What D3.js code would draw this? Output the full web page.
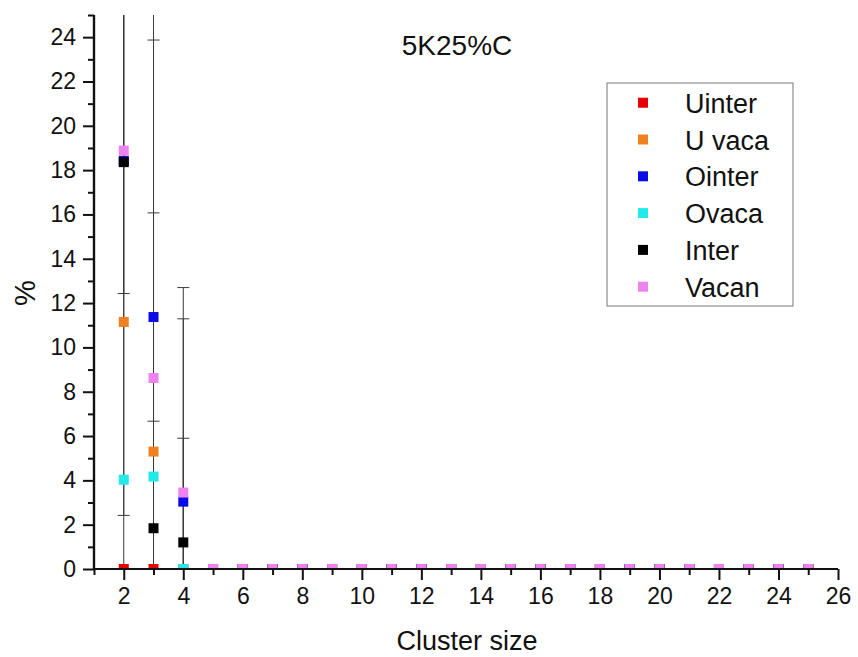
<!DOCTYPE html>
<html><head><meta charset="utf-8">
<script src="https://cdn.jsdelivr.net/npm/d3@7"></script>
<style>body{margin:0;background:#fff}svg{display:block}text{font-family:"Liberation Sans",Arial,sans-serif;fill:#111}</style>
</head><body>
<script>
// ---- data ----
const clusterSizes = [2,3,4,5,6,7,8,9,10,11,12,13,14,15,16,17,18,19,20,21,22,23,24,25];
const seriesNames = ["Uinter","U vaca","Ointer","Ovaca","Inter","Vacan"];
const seriesColors = ["#e60000","#f08022","#0a0ae8","#22eaea","#000000","#ee82ee"];
const uinter = [0,0,0,0,0,0,0,0,0,0,0,0,0,0,0,0,0,0,0,0,0,0,0,0];
const uvaca  = [11.15,5.3,0,0,0,0,0,0,0,0,0,0,0,0,0,0,0,0,0,0,0,0,0,0];
const ointer = [18.42,11.37,3.04,0,0,0,0,0,0,0,0,0,0,0,0,0,0,0,0,0,0,0,0,0];
const ovaca  = [4.03,4.17,0,0,0,0,0,0,0,0,0,0,0,0,0,0,0,0,0,0,0,0,0,0];
const inter  = [18.36,1.84,1.2,0,0,0,0,0,0,0,0,0,0,0,0,0,0,0,0,0,0,0,0,0];
const vacan  = [18.88,8.62,3.45,0,0,0,0,0,0,0,0,0,0,0,0,0,0,0,0,0,0,0,0,0];
const uinterErr = [0,0,0,0,0,0,0,0,0,0,0,0,0,0,0,0,0,0,0,0,0,0,0,0];
const uvacaErr  = [0,22,0,0,0,0,0,0,0,0,0,0,0,0,0,0,0,0,0,0,0,0,0,0];
const ointerErr = [16,4.7,8.25,0,0,0,0,0,0,0,0,0,0,0,0,0,0,0,0,0,0,0,0,0];
const ovacaErr  = [22,0,0,0,0,0,0,0,0,0,0,0,0,0,0,0,0,0,0,0,0,0,0,0];
const interErr  = [0,0,4.7,0,0,0,0,0,0,0,0,0,0,0,0,0,0,0,0,0,0,0,0,0];
const vacanErr  = [6.45,15.25,9.25,0,0,0,0,0,0,0,0,0,0,0,0,0,0,0,0,0,0,0,0,0];
const xTicks = [2,4,6,8,10,12,14,16,18,20,22,24,26];
const xMinor = [1,3,5,7,9,11,13,15,17,19,21,23,25];
const yTicks = [0,2,4,6,8,10,12,14,16,18,20,22,24];
const yMinor = [1,3,5,7,9,11,13,15,17,19,21,23,25];
const titleText = "5K25%C";
const xTitle = "Cluster size";
const yTitle = "%";

const values = [uinter,uvaca,ointer,ovaca,inter,vacan];
const errors = [uinterErr,uvacaErr,ointerErr,ovacaErr,interErr,vacanErr];

// ---- layout ----
const W = 858, H = 657;
const m = {left:94, top:15};
const x = d3.scaleLinear().domain([1,26]).range([m.left, 838]);
const y = d3.scaleLinear().domain([0,25]).range([569, m.top]);

const svg = d3.select("body").append("svg").attr("width",W).attr("height",H);
svg.append("defs").append("clipPath").attr("id","plotclip")
  .append("rect").attr("x",m.left).attr("y",y(25)).attr("width",x(26)-m.left).attr("height",y(0)-y(25));

const plot = svg.append("g").attr("clip-path","url(#plotclip)");

// error bars
const capW = 6;
errors.forEach((errArr, si) => {
  errArr.forEach((e, i) => {
    if (!e) return;
    const cx = x(clusterSizes[i]), v = values[si][i];
    const g = plot.append("g").attr("stroke","#3a3a3a").attr("stroke-width",1);
    g.append("line").attr("x1",cx).attr("x2",cx).attr("y1",y(v+e)).attr("y2",y(v-e));
    [v+e, v-e].forEach(b => {
      g.append("line").attr("x1",cx-capW).attr("x2",cx+capW).attr("y1",y(b)).attr("y2",y(b));
    });
  });
});

// markers
const ms = 10;
values.forEach((arr, si) => {
  plot.append("g").selectAll("rect").data(arr).join("rect")
    .attr("x",(d,i)=>x(clusterSizes[i])-ms/2)
    .attr("y",d=>y(d)-ms/2)
    .attr("width",ms).attr("height",ms)
    .attr("fill",seriesColors[si]);
});

// axes
const axX = svg.append("g").attr("transform",`translate(0,${y(0)})`);
axX.call(d3.axisBottom(x).tickValues(xTicks).tickSize(11).tickPadding(8).tickFormat(d3.format("d")));
axX.append("g").call(d3.axisBottom(x).tickValues(xMinor).tickSize(6).tickFormat(""));
const axY = svg.append("g").attr("transform",`translate(${m.left},0)`);
axY.call(d3.axisLeft(y).tickValues(yTicks).tickSize(11).tickPadding(7).tickFormat(d3.format("d")));
axY.append("g").call(d3.axisLeft(y).tickValues(yMinor).tickSize(6).tickFormat(""));
[axX, axY].forEach(a => {
  a.selectAll(".domain").attr("stroke","#111").attr("stroke-width",2.2);
  a.selectAll("line").attr("stroke","#111").attr("stroke-width",2);
  a.selectAll("text").attr("font-size",23).attr("fill","#111");
});
axX.selectAll(".domain").attr("d",`M${x(1)},0H${x(26)}`);
axY.selectAll(".domain").attr("d",`M0,${y(0)}V${y(25)}`);

// titles
svg.append("text").attr("x",457).attr("y",55).attr("text-anchor","middle").attr("font-size",28).text(titleText);
svg.append("text").attr("x",467).attr("y",650).attr("text-anchor","middle").attr("font-size",27).text(xTitle);
svg.append("text").attr("transform","translate(35,293) rotate(-90)").attr("text-anchor","middle").attr("font-size",29).text(yTitle);

// legend
const lg = svg.append("g");
lg.append("rect").attr("x",607).attr("y",83).attr("width",186).attr("height",223)
  .attr("fill","#fff").attr("stroke","#777").attr("stroke-width",1);
seriesNames.forEach((n, i) => {
  const cy = 102.7 + i*36.8;
  lg.append("rect").attr("x",643-5).attr("y",cy-5).attr("width",10).attr("height",10).attr("fill",seriesColors[i]);
  lg.append("text").attr("x",685).attr("y",cy+10).attr("font-size",27).text(n);
});
</script>
</body></html>
